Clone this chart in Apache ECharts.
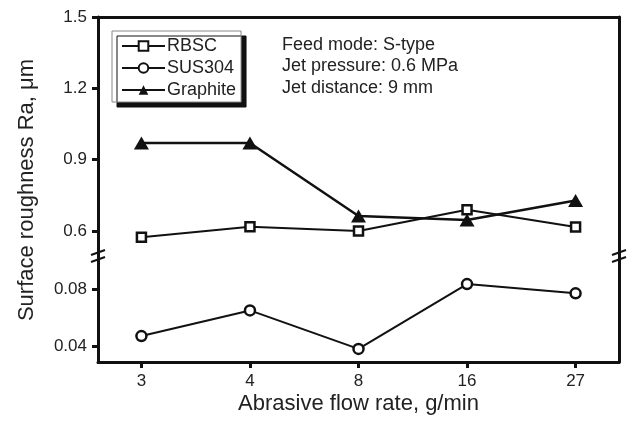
<!DOCTYPE html>
<html>
<head>
<meta charset="utf-8">
<script src="https://cdn.jsdelivr.net/npm/echarts@6/dist/echarts.min.js"></script>
<style>html,body{margin:0;padding:0;background:#fff}#c{width:630px;height:421px}</style>
</head>
<body>
<div id="c"></div>
<script>
var categories = ['3', '4', '8', '16', '27'];
var rbsc = [0.573, 0.618, 0.600, 0.689, 0.617];
var sus304 = [0.047, 0.065, 0.038, 0.0835, 0.077];
var graphite = [0.970, 0.970, 0.663, 0.646, 0.728];
var upperTicks = [0.6, 0.9, 1.2, 1.5];
var lowerTicks = [0.04, 0.08];
var notes = ['Feed mode: S-type', 'Jet pressure: 0.6 MPa', 'Jet distance: 9 mm'];

function pts(arr) { return arr.map(function (v, i) { return [i, v]; }); }

var FONT = 'Liberation Sans, Arial, sans-serif';
var INK = '#111';
var xIdx = categories.map(function (c, i) { return i; });

var chart = echarts.init(document.getElementById('c'), null, { renderer: 'canvas' });

var lineStyle = { color: INK, width: 2 };
var axLine = { show: true, onZero: false, lineStyle: { color: INK, width: 3 } };

function breakMark(x, y) {
  return {
    type: 'group', x: x, y: y, z: 100,
    children: [
      { type: 'polygon', shape: { points: [[-6, 0], [6, -4], [6, 0], [-6, 4]] }, style: { fill: '#fff' } },
      { type: 'line', shape: { x1: -7, y1: -1, x2: 7, y2: -6 }, style: { stroke: INK, lineWidth: 2 } },
      { type: 'line', shape: { x1: -7, y1: 6, x2: 7, y2: 1 }, style: { stroke: INK, lineWidth: 2 } }
    ]
  };
}

var option = {
  animation: false,
  backgroundColor: '#fff',
  textStyle: { fontFamily: FONT, color: INK },
  grid: [
    { left: 98, right: 11, top: 17, height: 237 },
    { left: 98, right: 11, top: 254, height: 108 }
  ],
  xAxis: [
    {
      type: 'value', gridIndex: 0, position: 'top', min: -0.4, max: 4.4,
      axisLine: axLine, axisTick: { show: false }, axisLabel: { show: false }, splitLine: { show: false }
    },
    {
      type: 'value', gridIndex: 1, position: 'bottom', min: -0.4, max: 4.4,
      axisLine: axLine,
      axisTick: { show: true, length: 6, lineStyle: { color: INK, width: 3 }, customValues: xIdx },
      axisLabel: {
        fontSize: 17, color: '#222', fontFamily: FONT, margin: 11, customValues: xIdx,
        formatter: function (v) { return categories[Math.round(v)]; }
      },
      splitLine: { show: false },
      name: 'Abrasive flow rate, g/min', nameLocation: 'middle', nameGap: 31,
      nameTextStyle: { fontSize: 22, color: '#222', fontFamily: FONT }
    }
  ],
  yAxis: [
    {
      type: 'value', gridIndex: 0, position: 'left', min: 0.503, max: 1.5,
      axisLine: axLine,
      axisTick: { show: true, length: 6, lineStyle: { color: INK, width: 3 }, customValues: upperTicks },
      axisLabel: {
        fontSize: 17, color: '#222', fontFamily: FONT, margin: 11, customValues: upperTicks,
        formatter: function (v) { return v.toFixed(1); }
      },
      splitLine: { show: false }
    },
    {
      type: 'value', gridIndex: 0, position: 'right', min: 0.503, max: 1.5,
      axisLine: axLine, axisTick: { show: false }, axisLabel: { show: false }, splitLine: { show: false }
    },
    {
      type: 'value', gridIndex: 1, position: 'left', min: 0.0288, max: 0.1046,
      axisLine: axLine,
      axisTick: { show: true, length: 6, lineStyle: { color: INK, width: 3 }, customValues: lowerTicks },
      axisLabel: {
        fontSize: 17, color: '#222', fontFamily: FONT, margin: 11, customValues: lowerTicks,
        formatter: function (v) { return v.toFixed(2); }
      },
      splitLine: { show: false }
    },
    {
      type: 'value', gridIndex: 1, position: 'right', min: 0.0288, max: 0.1046,
      axisLine: axLine, axisTick: { show: false }, axisLabel: { show: false }, splitLine: { show: false }
    }
  ],
  legend: {
    orient: 'vertical', left: 112, top: 31,
    data: ['RBSC', 'SUS304', 'Graphite'],
    itemWidth: 43, itemHeight: 12, itemGap: 4,
    padding: [6, 5, 3, 9],
    backgroundColor: '#fff', borderColor: '#888', borderWidth: 1,
    shadowColor: '#111', shadowBlur: 0, shadowOffsetX: 5, shadowOffsetY: 5,
    textStyle: { fontSize: 18, color: '#222', fontFamily: FONT, padding: [0, 0, 0, -3] }
  },
  series: [
    {
      name: 'RBSC', type: 'line', xAxisIndex: 0, yAxisIndex: 0, data: pts(rbsc),
      symbol: 'rect', symbolSize: 9,
      lineStyle: lineStyle, itemStyle: { color: '#fff', borderColor: INK, borderWidth: 2.5 }, z: 3
    },
    {
      name: 'SUS304', type: 'line', xAxisIndex: 1, yAxisIndex: 2, data: pts(sus304),
      symbol: 'circle', symbolSize: 10,
      lineStyle: lineStyle, itemStyle: { color: '#fff', borderColor: INK, borderWidth: 2.5 }, z: 3
    },
    {
      name: 'Graphite', type: 'line', xAxisIndex: 0, yAxisIndex: 0, data: pts(graphite),
      symbol: 'triangle', symbolSize: [15, 13],
      lineStyle: { color: INK, width: 2.5 }, itemStyle: { color: INK, borderColor: INK, borderWidth: 0 }, z: 4
    }
  ],
  graphic: [
    {
      type: 'text', left: 282, top: 34, z: 10,
      style: { text: notes.join('\n'), font: '18px ' + FONT, fill: '#222', lineHeight: 21.5 }
    },
    {
      type: 'text', x: 27, y: 190, rotation: Math.PI / 2, z: 10,
      style: { text: 'Surface roughness Ra, \u03bcm', font: '22px ' + FONT, fill: '#222', align: 'center', verticalAlign: 'middle' }
    },
    breakMark(98, 256),
    breakMark(619, 256)
  ]
};
chart.setOption(option);
</script>
</body>
</html>
